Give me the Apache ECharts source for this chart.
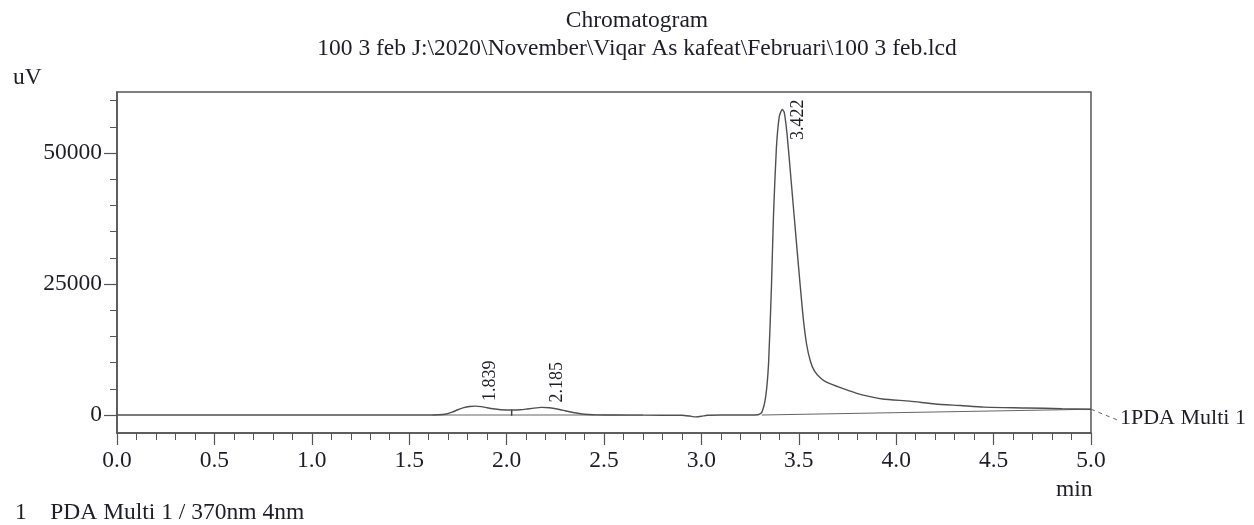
<!DOCTYPE html>
<html>
<head>
<meta charset="utf-8">
<script src="https://cdn.jsdelivr.net/npm/echarts@6/dist/echarts.min.js"></script>
<style>
html,body{margin:0;padding:0;background:#fff;}
#chart{width:1254px;height:525px;}
</style>
</head>
<body>
<div id="chart"></div>
<script>
// ---- data ----
var timeMin = [0.00,1.60,1.65,1.69,1.72,1.75,1.78,1.81,1.84,1.87,1.90,1.93,1.97,2.00,2.03,2.07,2.10,2.14,2.18,2.22,2.26,2.30,2.34,2.38,2.42,2.46,2.55,2.70,2.90,2.94,2.97,3.00,3.03,3.10,3.25,3.29,3.31,3.33,3.345,3.36,3.37,3.385,3.40,3.415,3.425,3.44,3.46,3.49,3.52,3.54,3.56,3.58,3.61,3.64,3.70,3.76,3.82,3.93,4.07,4.20,4.33,4.45,4.67,4.85,5.00];
var signalUV = [0,0,50,200,550,1000,1400,1620,1700,1600,1380,1180,1000,960,950,1000,1120,1320,1450,1380,1150,820,480,250,100,20,0,-30,-50,-200,-350,-250,-50,0,0,50,500,3500,10000,25000,38000,51000,57000,58300,57800,53500,45000,32000,19500,13500,10200,8400,7100,6300,5400,4600,3900,3050,2650,2100,1800,1500,1350,1200,1100];
var baseline1Times = [1.62, 2.70];
var baseline1Values = [0, 0];
var baseline2Times = [3.31, 5.00];
var baseline2Values = [0, 1100];
var dropLineTime = [2.026, 2.026];
var dropLineValues = [-150, 1050];
var peakTimes = [1.839, 2.185, 3.422];
var peakHeights = [1700, 1450, 58300];
var peakLabels = ['1.839', '2.185', '3.422'];
var xTicks = [0, 0.5, 1.0, 1.5, 2.0, 2.5, 3.0, 3.5, 4.0, 4.5, 5.0];
var yTicks = [0, 25000, 50000];
var yMinorTicks = [5000,10000,15000,20000,30000,35000,40000,45000,55000,60000];
var titleText = 'Chromatogram';
var subtitleText = '100 3 feb J:\\2020\\November\\Viqar As kafeat\\Februari\\100 3 feb.lcd';
var yUnit = 'uV';
var xUnit = 'min';
var traceName = '1PDA Multi 1';
var footerText = '1    PDA Multi 1 / 370nm 4nm';

// ---- chart ----
var FONT = '"Liberation Serif", "DejaVu Serif", serif';
var FS = 23.5;
var TXT = '#1e1e28';
var AX = '#555';
var Y_MIN = -3435, Y_MAX = 61640;

function pairs(xs, ys){ return xs.map(function(x,i){ return [x, ys[i]]; }); }

var chart = echarts.init(document.getElementById('chart'), null, {renderer:'canvas'});
var option = {
  backgroundColor:'#fff',
  animation:false,
  title:{
    text: titleText, subtext: subtitleText,
    left: 632, top: 4, textAlign:'center', itemGap: 4,
    textStyle:{fontFamily:FONT, fontSize:FS, fontWeight:'normal', color:TXT},
    subtextStyle:{fontFamily:FONT, fontSize:FS, color:TXT}
  },
  grid:{left:117, top:92, right:163, bottom:92, show:true, borderColor:AX, borderWidth:1.5, backgroundColor:'transparent'},
  xAxis:{
    type:'value', min:0, max:5, interval:0.5,
    axisLine:{show:true, onZero:false, lineStyle:{color:AX, width:1.5}},
    axisTick:{show:true, length:12, lineStyle:{color:AX, width:1.2}},
    minorTick:{show:true, splitNumber:5, length:7, lineStyle:{color:AX, width:1}},
    splitLine:{show:false}, minorSplitLine:{show:false},
    axisLabel:{margin:16, fontFamily:FONT, fontSize:FS, color:TXT,
      formatter:function(v){ return v.toFixed(1); }, customValues: xTicks}
  },
  yAxis:[{
    type:'value', min:Y_MIN, max:Y_MAX, position:'left',
    axisLine:{show:true, onZero:false, lineStyle:{color:AX, width:1.5}},
    axisTick:{show:true, length:13, customValues:yTicks, lineStyle:{color:AX, width:1.2}},
    axisLabel:{margin:15, fontFamily:FONT, fontSize:FS, color:TXT, customValues:yTicks,
      formatter:function(v){ return String(v); }},
    splitLine:{show:false}
  },{
    type:'value', min:Y_MIN, max:Y_MAX, position:'left',
    axisLine:{show:false},
    axisTick:{show:true, length:7, customValues:yMinorTicks, lineStyle:{color:AX, width:1}},
    axisLabel:{show:false, customValues:yMinorTicks},
    splitLine:{show:false}
  }],
  series:[
    {type:'line', name:'baseline1', data:pairs(baseline1Times, baseline1Values), showSymbol:false,
      lineStyle:{color:'#666', width:1.2}, z:2},
    {type:'line', name:'baseline2', data:pairs(baseline2Times, baseline2Values), showSymbol:false,
      lineStyle:{color:'#666', width:1.2}, z:2},
    {type:'line', name:'drop', data:pairs(dropLineTime, dropLineValues), showSymbol:false,
      lineStyle:{color:'#444', width:1.5}, z:3},
    {type:'line', name:'signal', data:pairs(timeMin, signalUV), showSymbol:false, smooth:0.2,
      lineStyle:{color:'#505050', width:1.4}, z:4}
  ],
  graphic:[]
};
chart.setOption(option);

// place annotations using the library's scales
var g = [];
g.push({type:'text', left:13, top:66, style:{text:yUnit, font:FS+'px '+FONT, fill:TXT}});
g.push({type:'text', left:1056, top:478, style:{text:xUnit, font:FS+'px '+FONT, fill:TXT}});
g.push({type:'text', left:15, top:501, style:{text:footerText, font:FS+'px '+FONT, fill:TXT}});
var gridTop = 92;
peakTimes.forEach(function(t, i){
  var p = chart.convertToPixel({xAxisIndex:0, yAxisIndex:0}, [t, peakHeights[i]]);
  var labelLen = 45;
  var bottomY = Math.max(p[1] - 5, gridTop + 3 + labelLen);
  g.push({type:'text', x:p[0] + 15, y:bottomY, rotation:Math.PI/2,
    style:{text:peakLabels[i], font:'18px '+FONT, fill:TXT, textAlign:'left', textVerticalAlign:'middle'}});
});
var endPt = chart.convertToPixel({xAxisIndex:0, yAxisIndex:0}, [timeMin[timeMin.length-1], signalUV[signalUV.length-1]]);
g.push({type:'line', shape:{x1:endPt[0], y1:endPt[1], x2:endPt[0]+27, y2:endPt[1]+11},
  style:{stroke:'#666', lineWidth:1, lineDash:[4,4]}});
g.push({type:'text', x:endPt[0]+29, y:endPt[1]+9, style:{text:traceName, font:'22px '+FONT, fill:TXT, textVerticalAlign:'middle'}});
chart.setOption({graphic:g});
</script>
</body>
</html>
